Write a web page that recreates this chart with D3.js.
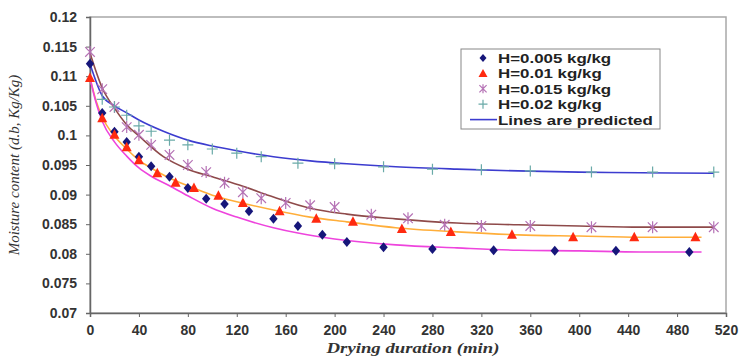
<!DOCTYPE html>
<html>
<head>
<meta charset="utf-8">
<script src="https://cdn.jsdelivr.net/npm/d3@7"></script>
<style>
  body { margin: 0; background: #fff; }
  .tick text { font-family: "Liberation Sans", Arial, sans-serif; font-weight: bold; font-size: 14px; fill: #333; }
</style>
</head>
<body>
<div id="chart"></div>
<script>
// measured points: [minutes, moisture]
var h005 = [[0,0.1121],[10,0.1038],[20,0.1006],[30,0.0989],[40,0.0964],[50,0.0948],[65,0.0930],[80,0.0911],[95,0.0893],[110,0.0884],[130,0.0872],[150,0.0859],[170,0.0847],[190,0.0832],[210,0.0820],[240,0.0811],[280,0.0808],[330,0.0806],[380,0.0805],[430,0.0805],[490,0.0803]];
var h01 = [[0,0.1097],[10,0.1029],[20,0.1001],[30,0.0980],[40,0.0958],[55,0.0936],[70,0.0920],[85,0.0911],[105,0.0898],[125,0.0886],[155,0.0872],[185,0.0859],[215,0.0854],[255,0.0842],[295,0.0837],[345,0.0832],[395,0.0828],[445,0.0828],[495,0.0828]];
var h015 = [[0,0.1141],[10,0.1078],[20,0.1048],[30,0.1014],[40,0.1001],[50,0.0984],[65,0.0967],[80,0.0950],[95,0.0938],[110,0.0920],[125,0.0904],[140,0.0894],[160,0.0886],[180,0.0882],[200,0.0879],[230,0.0866],[260,0.0860],[290,0.0849],[320,0.0847],[360,0.0847],[410,0.0845],[460,0.0845],[510,0.0845]];
var h02 = [[10,0.1061],[20,0.1048],[30,0.1034],[40,0.1016],[50,0.1007],[65,0.0992],[80,0.0984],[100,0.0977],[120,0.0970],[140,0.0964],[170,0.0953],[200,0.0952],[240,0.0947],[280,0.0943],[320,0.0942],[360,0.0940],[410,0.0938],[460,0.0938],[510,0.0938]];

// predicted curves
var pred005 = [[0,0.1097],[5,0.1055],[10,0.1024],[20,0.0989],[30,0.0965],[40,0.0945],[50,0.0931],[65,0.0915],[80,0.0898],[100,0.0877],[120,0.0862],[150,0.0844],[170,0.0835],[200,0.0825],[250,0.0815],[300,0.0810],[350,0.0806],[400,0.0805],[450,0.0803],[500,0.0803]];
var pred01 = [[0,0.1097],[5,0.1058],[10,0.1031],[20,0.0999],[30,0.0977],[40,0.0958],[50,0.0945],[65,0.0928],[80,0.0915],[100,0.0899],[120,0.0888],[150,0.0874],[180,0.0862],[210,0.0854],[250,0.0844],[300,0.0837],[350,0.0832],[400,0.0830],[450,0.0828],[500,0.0828]];
var pred015 = [[0,0.1139],[10,0.1080],[20,0.1046],[30,0.1018],[40,0.0999],[60,0.0964],[80,0.0943],[100,0.0930],[125,0.0914],[150,0.0896],[180,0.0877],[210,0.0867],[250,0.0859],[300,0.0852],[350,0.0849],[400,0.0847],[450,0.0845],[510,0.0845]];
var pred02 = [[0,0.1121],[10,0.1067],[20,0.1050],[30,0.1038],[40,0.1026],[60,0.1007],[80,0.0992],[100,0.0982],[120,0.0974],[150,0.0964],[180,0.0957],[210,0.0952],[250,0.0947],[300,0.0943],[350,0.0940],[400,0.0938],[450,0.0937],[510,0.0936]];

var xTicks = [0,40,80,120,160,200,240,280,320,360,400,440,480,520];
var yTicks = [0.07,0.075,0.08,0.085,0.09,0.095,0.1,0.105,0.11,0.115,0.12];
var legendLabels = ["H=0.005 kg/kg","H=0.01 kg/kg","H=0.015 kg/kg","H=0.02 kg/kg","Lines are predicted"];

var margin = { top: 17, right: 13, bottom: 48, left: 90 },
    width = 739 - margin.left - margin.right,
    height = 361 - margin.top - margin.bottom;

var svg = d3.select("#chart")
    .append("svg")
    .attr("width", 739)
    .attr("height", 361)
    .append("g")
    .attr("transform", "translate(" + margin.left + "," + margin.top + ")");

var x = d3.scaleLinear().domain([0, 520]).range([0, width]);
var y = d3.scaleLinear().domain([0.07, 0.12]).range([height, 0]);

// plot frame
svg.append("rect")
    .attr("width", width).attr("height", height)
    .attr("fill", "none").attr("stroke", "#a8a8a8").attr("stroke-width", 1.5);

var xa = svg.append("g")
    .attr("transform", "translate(0," + height + ")")
    .call(d3.axisBottom(x).tickValues(xTicks).tickSize(4).tickPadding(8).tickFormat(d3.format("d")));
var ya = svg.append("g")
    .call(d3.axisLeft(y).tickValues(yTicks).tickSize(4).tickPadding(9).tickFormat(d => String(+d.toFixed(3))));
[xa, ya].forEach(function (a) {
    a.select(".domain").attr("stroke", "#666").attr("stroke-width", 1.5);
    a.selectAll(".tick line").attr("stroke", "#666");
});

// predicted lines
var line = d3.line()
    .x(d => x(d[0]))
    .y(d => y(d[1]))
    .curve(d3.curveMonotoneX);

var preds = [
    { data: pred02, color: "#3c3ccf" },
    { data: pred015, color: "#8e4a4a" },
    { data: pred01, color: "#ffae3a" },
    { data: pred005, color: "#ee44dd" }
];
preds.forEach(function (p) {
    svg.append("path").datum(p.data)
        .attr("d", line)
        .attr("fill", "none")
        .attr("stroke", p.color)
        .attr("stroke-width", 1.6);
});

// markers
function plusPath(s) { return "M" + (-s) + ",0H" + s + "M0," + (-s) + "V" + s; }
function starPath(s) {
    var a = s * 0.8;
    return "M" + (-a) + "," + (-a) + "L" + a + "," + a + "M" + (-a) + "," + a + "L" + a + "," + (-a) + "M0," + (-s) + "V" + s;
}

function drawMarks(data, path, fill, stroke) {
    svg.append("g").selectAll("path")
        .data(data)
        .join("path")
        .attr("transform", d => "translate(" + x(d[0]) + "," + y(d[1]) + ")")
        .attr("d", path)
        .attr("fill", fill)
        .attr("stroke", stroke)
        .attr("stroke-width", stroke === "none" ? 0 : 1.2);
}

drawMarks(h005, "M0,-5L4.2,0L0,5L-4.2,0Z", "#16167a", "none");
drawMarks(h01, "M0,-5.5L5,4L-5,4Z", "#ff2a10", "none");
drawMarks(h015, starPath(6), "none", "#b572b5");
drawMarks(h02, plusPath(5.5), "none", "#6aaaa8");

// legend
var lg = svg.append("g").attr("transform", "translate(" + (461 - margin.left) + "," + (49 - margin.top) + ")");
lg.append("rect").attr("width", 199).attr("height", 80)
    .attr("fill", "#fff").attr("stroke", "#888").attr("stroke-width", 1);

var legendSym = [
    { d: "M0,-4L3.5,0L0,4L-3.5,0Z", fill: "#16167a", stroke: "none" },
    { d: "M0,-4.5L4.5,3.5L-4.5,3.5Z", fill: "#ff2a10", stroke: "none" },
    { d: starPath(4.5), fill: "none", stroke: "#b572b5" },
    { d: plusPath(4.5), fill: "none", stroke: "#6aaaa8" }
];
legendLabels.forEach(function (t, i) {
    var yy = 9 + i * 15.4;
    if (i < 4) {
        lg.append("path").attr("transform", "translate(22," + yy + ")")
            .attr("d", legendSym[i].d)
            .attr("fill", legendSym[i].fill)
            .attr("stroke", legendSym[i].stroke)
            .attr("stroke-width", 1.2);
    } else {
        lg.append("line").attr("x1", 9).attr("x2", 36).attr("y1", yy).attr("y2", yy)
            .attr("stroke", "#3c3ccf").attr("stroke-width", 1.6);
    }
    lg.append("text")
        .attr("transform", "translate(37," + (yy + 5) + ") scale(1.3,1)")
        .text(t)
        .style("font-family", "'Liberation Sans', Arial, sans-serif")
        .style("font-weight", "bold")
        .style("font-size", "13px")
        .style("fill", "#222");
});

// axis titles
svg.append("text")
    .attr("transform", "translate(" + (width / 2 + 5) + "," + (height + 40) + ") scale(1.25,1)")
    .attr("text-anchor", "middle")
    .style("font-family", "'Liberation Serif', 'Times New Roman', serif")
    .style("font-style", "italic").style("font-weight", "bold")
    .style("font-size", "15px").style("fill", "#333")
    .text("Drying duration (min)");

svg.append("text")
    .attr("transform", "translate(" + (-71) + "," + (height / 2) + ") rotate(-90)")
    .attr("text-anchor", "middle")
    .style("font-family", "'Liberation Serif', 'Times New Roman', serif")
    .style("font-style", "italic")
    .style("font-size", "15px").style("fill", "#333")
    .text("Moisture content (d.b, Kg/Kg)");
</script>
</body>
</html>
